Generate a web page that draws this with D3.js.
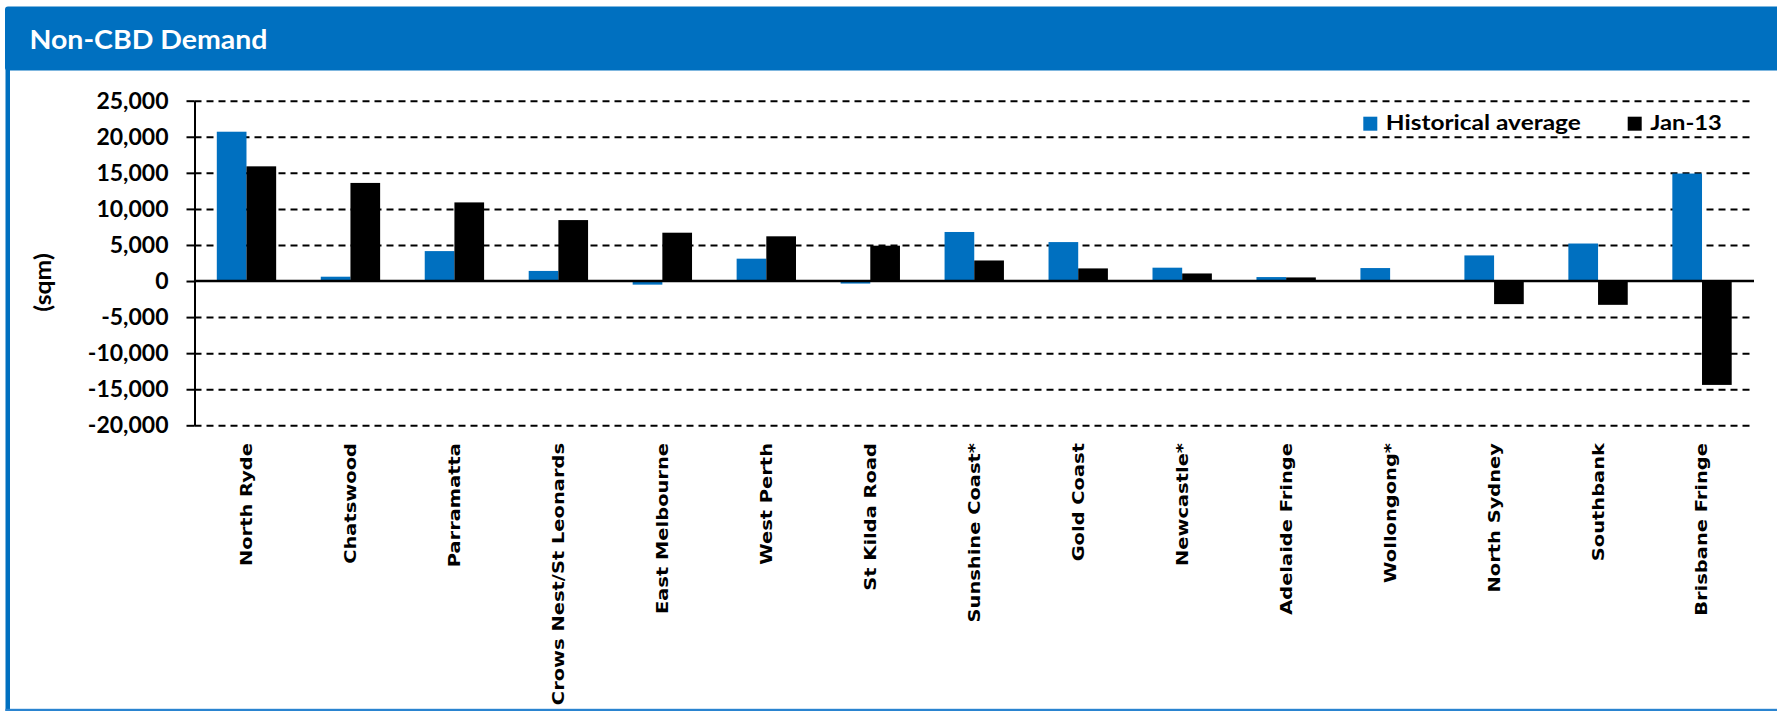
<!DOCTYPE html>
<html>
<head>
<meta charset="utf-8">
<script src="https://cdn.jsdelivr.net/npm/d3@7"></script>
<style>
  html, body { margin: 0; padding: 0; background: #fff; }
  svg { display: block; }
</style>
</head>
<body>
<svg id="chart" width="1777" height="711"></svg>
<script>
// Office demand by non-CBD market (sqm)
const categories = [
  "North Ryde", "Chatswood", "Parramatta", "Crows Nest/St Leonards",
  "East Melbourne", "West Perth", "St Kilda Road", "Sunshine Coast*",
  "Gold Coast", "Newcastle*", "Adelaide Fringe", "Wollongong*",
  "North Sydney", "Southbank", "Brisbane Fringe"
];
const historicalAverage = [20700, 600, 4150, 1400, -500, 3100, -350, 6800, 5400, 1850, 550, 1800, 3550, 5200, 14900];
const jan13 = [15900, 13600, 10900, 8450, 6700, 6200, 4900, 2850, 1750, 1050, 500, 0, -3200, -3300, -14400];
const seriesNames = ["Historical average", "Jan-13"];
const yTickValues = [-20000, -15000, -10000, -5000, 0, 5000, 10000, 15000, 20000, 25000];

const W = 1777, H = 711;
const BLUE = "#0070C0";
const series = [historicalAverage, jan13];
const seriesColors = [BLUE, "#000000"];

const svg = d3.select("#chart");

// Panel frame and header band
svg.append("rect")
  .attr("x", 5).attr("y", 6.5).attr("width", W).attr("height", 64)
  .attr("rx", 3).attr("fill", BLUE);
svg.append("rect")
  .attr("x", 5.5).attr("y", 66).attr("width", 4.5).attr("height", H - 66)
  .attr("fill", BLUE);
svg.append("rect")
  .attr("x", 5.5).attr("y", 708.8).attr("width", W).attr("height", 2.2)
  .attr("fill", "#2a84d0");

svg.append("text")
  .attr("x", 29.5).attr("y", 49)
  .attr("fill", "#fff")
  .attr("font-family", "Lato, 'Open Sans', sans-serif")
  .attr("font-weight", 700)
  .attr("font-size", 27.5)
  .attr("textLength", 238)
  .attr("lengthAdjust", "spacingAndGlyphs")
  .text("Non-CBD Demand");

// Scales
const plotLeft = 194.5, plotRight = 1754;
const x0 = d3.scaleBand()
  .domain(categories)
  .range([plotLeft, plotRight])
  .paddingInner(0.429)
  .paddingOuter(0.2145);
const x1 = d3.scaleBand()
  .domain(seriesNames)
  .range([0, x0.bandwidth()]);
const y = d3.scaleLinear()
  .domain([-20000, 25000])
  .range([425.3, 100.7]);

const locale = d3.formatLocale({ decimal: ".", thousands: ",", grouping: [3], currency: ["$", ""], minus: "-" });
const fmt = locale.format(",");

// Dashed gridlines
const grid = svg.append("g")
  .attr("transform", `translate(${plotLeft},0)`)
  .call(d3.axisLeft(y)
    .tickValues(yTickValues.filter(d => d !== 0))
    .tickSize(-(plotRight - plotLeft))
    .tickFormat(""));
grid.select(".domain").remove();
grid.selectAll(".tick line")
  .attr("stroke", "#000")
  .attr("stroke-width", 2)
  .attr("stroke-dasharray", "7,5");

// Bars
const groups = svg.append("g").selectAll("g")
  .data(categories)
  .join("g")
  .attr("transform", d => `translate(${x0(d)},0)`);

groups.selectAll("rect")
  .data((d, i) => series.map((s, k) => ({ name: seriesNames[k], value: s[i], color: seriesColors[k] })))
  .join("rect")
  .attr("x", d => x1(d.name))
  .attr("width", x1.bandwidth())
  .attr("y", d => y(Math.max(0, d.value)))
  .attr("height", d => Math.abs(y(d.value) - y(0)))
  .attr("fill", d => d.color);

// Zero line
svg.append("line")
  .attr("x1", plotLeft).attr("x2", plotRight)
  .attr("y1", y(0)).attr("y2", y(0))
  .attr("stroke", "#000")
  .attr("stroke-width", 2.5);

// Value axis with ticks and labels
const yAxis = svg.append("g")
  .attr("transform", `translate(${plotLeft},0)`)
  .call(d3.axisLeft(y)
    .tickValues(yTickValues)
    .tickSize(8)
    .tickSizeOuter(0)
    .tickPadding(18)
    .tickFormat(fmt));
yAxis.select(".domain").attr("stroke", "#000").attr("stroke-width", 2);
yAxis.selectAll(".tick line").attr("stroke", "#000").attr("stroke-width", 2);
yAxis.selectAll(".tick text")
  .attr("fill", "#000")
  .attr("font-family", "Lato, 'Open Sans', sans-serif")
  .attr("font-weight", 700)
  .attr("font-size", 23);

svg.append("text")
  .attr("transform", "translate(51.3,282.5) rotate(-90)")
  .attr("text-anchor", "middle")
  .attr("font-family", "Lato, 'Open Sans', sans-serif")
  .attr("font-weight", 700)
  .attr("font-size", 23)
  .attr("textLength", 58.4)
  .attr("lengthAdjust", "spacingAndGlyphs")
  .text("(sqm)");

// Category labels
svg.append("g").selectAll("text")
  .data(categories)
  .join("text")
  .attr("transform", d => `translate(${x0(d) + x0.bandwidth() / 2},443) rotate(-90) scale(1.18,1)`)
  .attr("text-anchor", "end")
  .attr("dy", "0.33em")
  .attr("font-family", "'DejaVu Sans', Verdana, sans-serif")
  .attr("font-weight", 700)
  .attr("font-size", 16.5)
  .attr("fill", "#000")
  .text(d => d);

// Legend
const legendItems = [
  { name: seriesNames[0], color: seriesColors[0], x: 1363.3, width: 195 },
  { name: seriesNames[1], color: seriesColors[1], x: 1627.7, width: 71.6 }
];
const legend = svg.append("g").selectAll("g")
  .data(legendItems)
  .join("g")
  .attr("transform", d => `translate(${d.x},116.7)`);
legend.append("rect")
  .attr("width", 14).attr("height", 14)
  .attr("fill", d => d.color);
legend.append("text")
  .attr("x", 22.5)
  .attr("y", 13.5)
  .attr("font-family", "Lato, 'Open Sans', sans-serif")
  .attr("font-weight", 700)
  .attr("font-size", 20.5)
  .attr("textLength", d => d.width)
  .attr("lengthAdjust", "spacingAndGlyphs")
  .text(d => d.name);
</script>
</body>
</html>
